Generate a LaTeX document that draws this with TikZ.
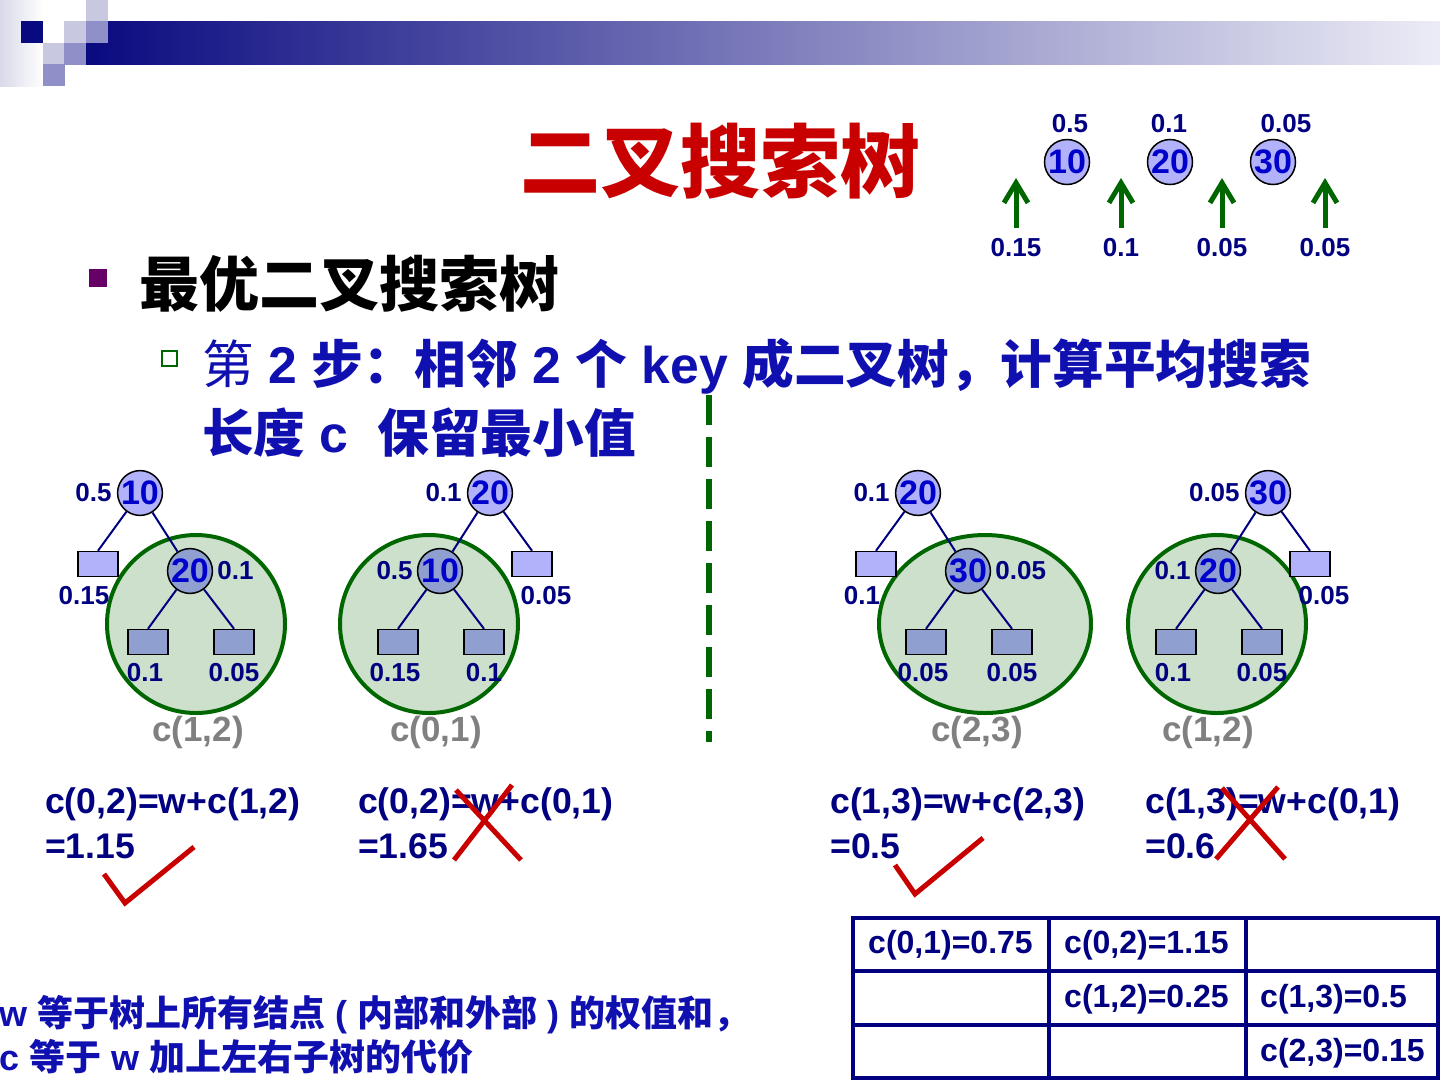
\documentclass[tikz,border=0pt]{standalone}
\usepackage{fontspec}
\setmainfont{Liberation Sans}
\newfontfamily\cjk{Noto Sans CJK SC}
\usetikzlibrary{arrows.meta,positioning}
\definecolor{navy}{RGB}{0,0,128}
\definecolor{keyblue}{RGB}{0,0,204}
\definecolor{txtblue}{RGB}{16,16,176}
\definecolor{lav}{RGB}{178,178,250}
\definecolor{subfill}{RGB}{143,160,208}
\definecolor{ringfill}{RGB}{204,224,204}
\definecolor{dkgreen}{RGB}{0,102,0}
\definecolor{redmark}{RGB}{200,0,0}
\definecolor{costgray}{RGB}{128,128,128}
\definecolor{barL}{RGB}{10,10,128}
\definecolor{barR}{RGB}{236,236,246}
\definecolor{sqlight}{RGB}{200,200,224}
\definecolor{sqmid}{RGB}{144,144,200}
\definecolor{bulletpurple}{RGB}{102,0,102}
\newcommand\zh[1]{{\cjk #1}}
\newcommand\fs[1]{\fontsize{#1}{#1}\selectfont}
\tikzset{
  keyc/.style={circle,draw=black,line width=1.5pt,fill=lav,minimum size=44pt,inner sep=0pt,text=keyblue,font=\bfseries\fs{34}},
  subkey/.style={keyc,fill=subfill},
  leaf/.style={rectangle,draw=black,line width=1.5pt,fill=lav,minimum width=40pt,minimum height=25pt,inner sep=0pt},
  subleaf/.style={leaf,fill=subfill},
  wlab/.style={text=navy,font=\bfseries\fs{26},inner sep=1pt},
  edge/.style={draw=navy,line width=2pt},
  ring/.style={draw=dkgreen,fill=ringfill,line width=4pt},
  cost/.style={text=costgray,font=\bfseries\fs{35}},
  formula/.style={text=navy,font=\bfseries\fs{35.6},anchor=west,inner sep=0pt},
  tickmark/.style={draw=redmark,line width=5pt},
  garrow/.style={draw=dkgreen,line width=5pt,-{Straight Barb[length=20pt,width=24pt,line width=5pt]}},
  cell/.style={text=navy,font=\bfseries\fs{32},anchor=west,inner sep=0pt},
  tbl/.style={draw=navy,line width=4pt}
}
\begin{document}
\begin{tikzpicture}[>=Latex,x=1pt,y=-1pt]
\useasboundingbox (0,0) rectangle (1440,1080);
\fill[white] (0,0) rectangle (1440,1080);
\shade[left color=sqlight!70,right color=white] (0,0) rectangle (43,86);
\shade[left color=barL,right color=barR] (86,21) rectangle (1440,64);
\fill[barL] (21,21) rectangle (43,43);
\foreach \x/\y in {64/21,86/0,43/43}{\fill[sqlight] (\x,\y) rectangle +(21.5,21.5);}
\foreach \x/\y in {86/21,64/43,43/64}{\fill[sqmid] (\x,\y) rectangle +(21.5,21.5);}
\node[text=redmark,font=\cjk\bfseries\fs{80}] (ttl) at (720,161) {二叉搜索树};
\foreach \k/\x/\wx/\w in {10/1067/1070/0.5,20/1170/1169/0.1,30/1273/1286/0.05}{
  \node[keyc,minimum size=45pt] (k\k) at (\x,162) {\k};
  \node[wlab] (kw\k) at (\wx,124) {\w};
}
\foreach \i/\x/\w in {0/1016/0.15,1/1121/0.1,2/1222/0.05,3/1325/0.05}{
  \node[wlab] (d\i) at (\x,248) {\w};
  \coordinate (d\i tip) at (\x,178);
  \draw[garrow] ([yshift=10pt]d\i.north) -- (d\i tip);
}
\fill[bulletpurple] (89,269) rectangle (107,287);
\node[anchor=west,inner sep=0pt,font=\cjk\bfseries\fs{60}] (h1) at (139,284) {最优二叉搜索树};
\draw[dkgreen,line width=2.5pt] (162,351) rectangle (177,366);
\node[anchor=west,inner sep=0pt,text=txtblue,font=\bfseries\fs{51.7}] (h2) at (202,366) {{\cjk\mdseries 第} 2 \zh{步：相邻} 2 \zh{个} key \zh{成二叉树，计算平均搜索}};
\node[anchor=west,inner sep=0pt,text=txtblue,font=\bfseries\fs{51.7}] (h3) at (202,433) {\zh{长度} c\ \ \zh{保留最小值}};
\draw[dkgreen,line width=6pt,dash pattern=on 30pt off 12pt] (709,395) -- (709,742);
\foreach \n/\x/\s/\rk/\rw/\lw/\sk/\sw/\aw/\bw/\ex/\erx/\cx/\cst in {
  1/140/1/10/0.5/0.15/20/0.1/0.1/0.05/196/89/198/{c(1,2)},
  2/490/-1/20/0.1/0.05/10/0.5/0.15/0.1/429/89/436/{c(0,1)},
  3/918/1/20/0.1/0.1/30/0.05/0.05/0.05/985/106/977/{c(2,3)},
  4/1268/-1/30/0.05/0.05/20/0.1/0.1/0.05/1217/89/1208/{c(1,2)}}{
  \ifnum\s>0 \def\sa{west}\def\sb{east}\else\def\sa{east}\def\sb{west}\fi
  \draw[ring] (\ex,624) ellipse [x radius=\erx, y radius=89];
  \node[keyc] (r\n) at (\x,493) {\rk};
  \node[leaf] (l\n) at ([shift={({-42*\s},71)}]r\n) {};
  \node[subkey] (s\n) at ([shift={({50*\s},78)}]r\n) {\sk};
  \node[subleaf] (a\n) at ([shift={(-42,71)}]s\n) {};
  \node[subleaf] (b\n) at ([shift={(44,71)}]s\n) {};
  \draw[edge] (r\n) -- (l\n.north) (r\n) -- (s\n) (s\n) -- (a\n.north) (s\n) -- (b\n.north);
  \node[wlab,left=4pt of r\n] (rw\n) {\rw};
  \node[wlab,below=8pt of l\n,xshift={-14*(\s)}] (lw\n) {\lw};
  \node[wlab,anchor=\sa] (sw\n) at ([xshift={3*(\s)}]s\n.\sb) {\sw};
  \node[wlab,below=7pt of a\n,xshift=-3pt] (aw\n) {\aw};
  \node[wlab,below=7pt of b\n] (bw\n) {\bw};
  \node[cost] (c\n) at (\cx,732) {\cst};
}
\node[formula] (f1) at (45,804) {c(0,2)=w+c(1,2)};
\node[formula] (f1b) at (45,846) {=1.15};
\node[formula] (f2) at (358,804) {c(0,2)=w+c(0,1)};
\node[formula] (f2b) at (358,846) {=1.65};
\node[formula] (f3) at (830,804) {c(1,3)=w+c(2,3)};
\node[formula] (f3b) at (830,846) {=0.5};
\node[formula] (f4) at (1145,804) {c(1,3)=w+c(0,1)};
\node[formula] (f4b) at (1145,846) {=0.6};
\draw[tickmark] (104,874) -- (125,903) -- (194,847);
\draw[tickmark] (895,865) -- (915,894) -- (983,838);
\draw[tickmark] (456,790) -- (521,860) (512,785) -- (454,860);
\draw[tickmark] (1222,788) -- (1285,859) (1278,787) -- (1216,859);
\node[anchor=west,inner sep=0pt,text=txtblue,font=\bfseries\fs{36}] (n1) at (-1,1015) {w \zh{等于树上所有结点} ( \zh{内部和外部} ) \zh{的权值和，}};
\node[anchor=west,inner sep=0pt,text=txtblue,font=\bfseries\fs{36}] (n2) at (-1,1057) {c \zh{等于} w \zh{加上左右子树的代价}};
\draw[tbl] (853,918) rectangle (1438,1078);
\draw[tbl] (1049,918) -- (1049,1078) (1246,918) -- (1246,1078) (853,971) -- (1438,971) (853,1025) -- (1438,1025);
\node[cell] (c01) at (868,945) {c(0,1)=0.75};
\node[cell] (c02) at (1064,945) {c(0,2)=1.15};
\node[cell] (c12) at (1064,999) {c(1,2)=0.25};
\node[cell] (c13) at (1260,999) {c(1,3)=0.5};
\node[cell] (c23) at (1260,1053) {c(2,3)=0.15};
\end{tikzpicture}
\end{document}
